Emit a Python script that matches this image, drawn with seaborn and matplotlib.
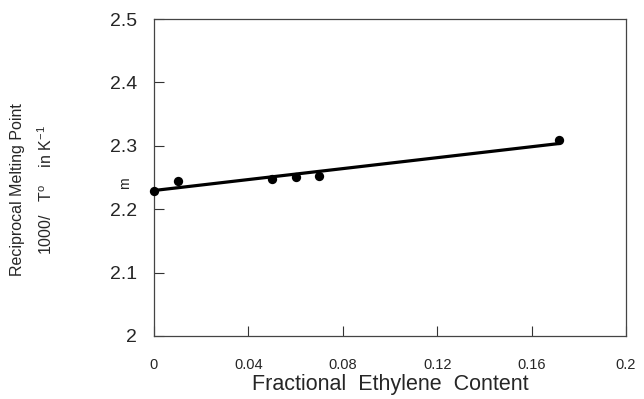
import matplotlib
matplotlib.use("Agg")
import matplotlib.pyplot as plt
import seaborn as sns
import pandas as pd

# data
ethylene = [0.0, 0.01, 0.05, 0.06, 0.07, 0.1715]
recip_tm = [2.229, 2.244, 2.248, 2.251, 2.253, 2.309]
fit_x = [0.0, 0.1715]
fit_y = [2.2295, 2.3035]
x_ticks = [0, 0.04, 0.08, 0.12, 0.16, 0.2]
x_tick_labels = ["0", "0.04", "0.08", "0.12", "0.16", "0.2"]
y_ticks = [2.0, 2.1, 2.2, 2.3, 2.4, 2.5]
y_tick_labels = ["2", "2.1", "2.2", "2.3", "2.4", "2.5"]

sns.set_theme(style="white")
plt.rcParams["font.family"] = ["Liberation Sans", "DejaVu Sans"]
plt.rcParams["mathtext.fontset"] = "custom"
plt.rcParams["mathtext.rm"] = "Liberation Sans"

fig = plt.figure(figsize=(6.44, 3.99), dpi=100)
ax = fig.add_axes([154/644, 1-336/399, (626-154)/644, (336-19)/399])

pts = pd.DataFrame({"x": ethylene, "y": recip_tm})
fit = pd.DataFrame({"x": fit_x, "y": fit_y})
sns.lineplot(data=fit, x="x", y="y", ax=ax, color="black", linewidth=2.3)
sns.scatterplot(data=pts, x="x", y="y", ax=ax, color="black", s=45,
                edgecolor="black", linewidth=0, zorder=5, clip_on=False)

ax.set_xlim(0, 0.2)
ax.set_ylim(2.0, 2.5)
ax.set_xticks(x_ticks)
ax.set_xticklabels(x_tick_labels, fontsize=10.5)
ax.set_yticks(y_ticks)
ax.set_yticklabels(y_tick_labels, fontsize=14)
ax.tick_params(axis="x", direction="in", length=7, width=0.8, color="#333333",
               pad=16, bottom=True, top=False)
ax.tick_params(axis="y", direction="in", length=7, width=0.8, color="#333333",
               pad=12, left=True, right=False)
for s in ax.spines.values():
    s.set_color("#444444")
    s.set_linewidth(0.9)
    s.set_visible(True)
ax.set_xlabel("Fractional  Ethylene  Content", fontsize=15.5, labelpad=1)
ax.set_ylabel("")

fig.text(18/644, 1-190/399, "Reciprocal Melting Point", rotation=90,
         ha="center", va="center", fontsize=11.5)
fig.text(46/644, 1-190/399, r"1000/   T$^{\mathregular{o}}$    in K$^{\mathregular{-1}}$",
         rotation=90, ha="center", va="center", fontsize=11.5)
fig.text(125/644, 1-183/399, "m", rotation=90, ha="center", va="center", fontsize=10)

fig.savefig("out.png", dpi=100)
